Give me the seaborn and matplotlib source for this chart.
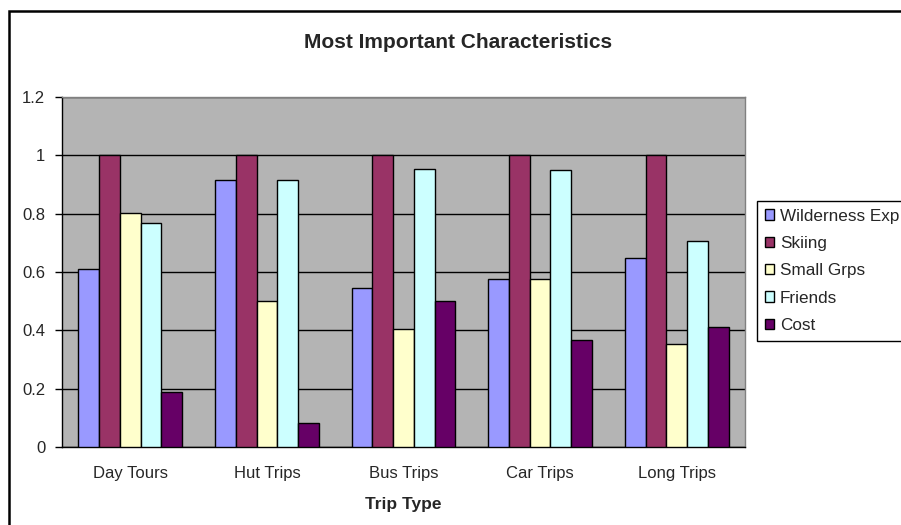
import pandas as pd
import seaborn as sns
import matplotlib.pyplot as plt
from matplotlib.patches import Rectangle

# data
trips = ['Day Tours', 'Hut Trips', 'Bus Trips', 'Car Trips', 'Long Trips']
series = ['Wilderness Exp', 'Skiing', 'Small Grps', 'Friends', 'Cost']
wilderness = [0.61, 0.916, 0.544, 0.575, 0.647]
skiing = [1.0, 1.0, 1.0, 1.0, 1.0]
small_grps = [0.802, 0.5, 0.406, 0.575, 0.352]
friends = [0.768, 0.916, 0.952, 0.949, 0.706]
cost = [0.19, 0.083, 0.5, 0.367, 0.41]
colors = ['#9999FF', '#993366', '#FFFFCC', '#CCFFFF', '#660066']

# long format for seaborn
rows = []
for name, vals in zip(series, [wilderness, skiing, small_grps, friends, cost]):
    for t, v in zip(trips, vals):
        rows.append({'Trip Type': t, 'Characteristic': name, 'value': v})
df = pd.DataFrame(rows)

sns.set_style('white')
plt.rcParams['font.family'] = ['Liberation Sans', 'DejaVu Sans']

fig = plt.figure(figsize=(9.01, 5.25), dpi=100)
ax = fig.add_axes([62 / 901, 1 - 447 / 525, (745 - 62) / 901, (447 - 97) / 525])

sns.barplot(data=df, x='Trip Type', y='value', hue='Characteristic',
            hue_order=series, order=trips, palette=colors, saturation=1,
            width=0.76, edgecolor='black', linewidth=1, ax=ax, zorder=3)

ax.set_facecolor('#B4B4B4')
ax.set_ylim(0, 1.2)
ax.set_yticks([0, 0.2, 0.4, 0.6, 0.8, 1.0, 1.2])
ax.set_yticklabels(['0', '0.2', '0.4', '0.6', '0.8', '1', '1.2'])
ax.yaxis.grid(True, color='black', linewidth=1, zorder=0)
ax.set_axisbelow(True)
ax.tick_params(axis='y', length=5, width=1, color='black', labelsize=12, pad=7, left=True)
ax.tick_params(axis='x', length=0, labelsize=12, pad=14)
for s in ['left', 'bottom']:
    ax.spines[s].set_color('black')
    ax.spines[s].set_linewidth(1)
for s in ['top', 'right']:
    ax.spines[s].set_color('#808080')
    ax.spines[s].set_linewidth(1)

ax.set_xlabel('Trip Type', fontsize=12.5, fontweight='bold', labelpad=11)
ax.set_ylabel('')

fig.text(458 / 901, 1 - 42 / 525, 'Most Important Characteristics',
         ha='center', va='center', fontsize=15, fontweight='bold')

handles, labels = ax.get_legend_handles_labels()
ax.legend(handles, labels, loc='upper left', bbox_to_anchor=(757 / 901, 1 - 201 / 525),
          bbox_transform=fig.transFigure, borderaxespad=0, fontsize=12.3,
          frameon=True, fancybox=False, edgecolor='black', framealpha=1,
          handlelength=0.55, handleheight=0.55, handletextpad=0.35,
          labelspacing=0.72, borderpad=0.45)
ax.get_legend().get_frame().set_linewidth(1)

# outer chart border
fig.patches.append(Rectangle((8.5 / 901, -0.05), 1.0, 1 - 11 / 525 + 0.05,
                             transform=fig.transFigure, fill=False,
                             edgecolor='black', linewidth=1.8))

fig.savefig('out.png', dpi=100)
